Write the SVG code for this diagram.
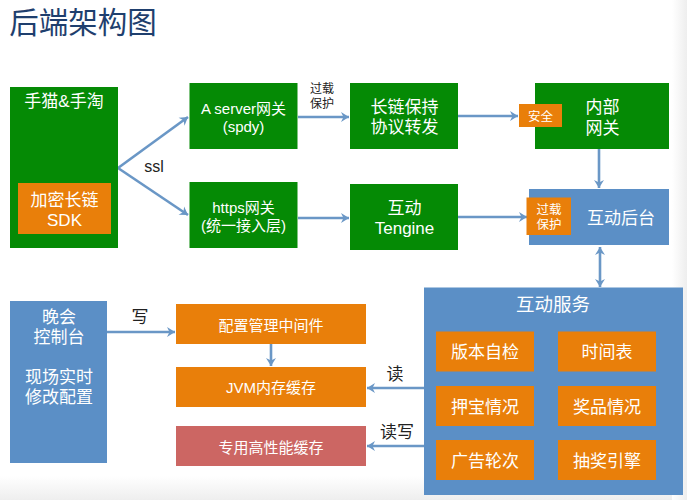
<svg xmlns="http://www.w3.org/2000/svg" width="687" height="500" viewBox="0 0 687 500">
<style>
text{font-family:"Liberation Sans","Noto Sans CJK SC",sans-serif;fill:#fff;text-anchor:middle}
.g{fill:#058a05}.o{fill:#e97f0a}.b{fill:#5b8fc6}.r{fill:#cc6663}
.dark{fill:#222}
.c{stroke:#6a97c6;stroke-width:2.6;fill:none;marker-end:url(#a)}
.s14{font-size:15px}.s16{font-size:17px}.s12{font-size:12.500px}
</style>
<defs>
<marker id="a" markerUnits="userSpaceOnUse" markerWidth="12" markerHeight="12" refX="9" refY="6" orient="auto-start-reverse"><path d="M1 1L9 6L1 11L3.500 6Z" fill="#6a97c6"/></marker>
<linearGradient id="rg"><stop offset="0" stop-color="#fff"/><stop offset="1" stop-color="#eeeeee"/></linearGradient>
<linearGradient id="bg" x1="0" y1="0" x2="0" y2="1"><stop offset="0" stop-color="#fff"/><stop offset="1" stop-color="#eeeeee"/></linearGradient>
</defs>
<rect width="687" height="500" fill="#fff"/>
<rect y="476" width="687" height="24" fill="url(#bg)"/>
<rect x="672" width="15" height="500" fill="url(#rg)"/>
<text id="title" x="83" y="33" style="font-size:29.500px;fill:#1f3f6e">后端架构图</text>
<g id="connectors">
<path class="c" d="M298 117H349"/>
<path class="c" d="M298 218H349"/>
<path class="c" d="M118 168L188 117"/>
<path class="c" d="M118 168L188 215"/>
<path class="c" d="M458 116H518"/>
<path class="c" d="M458 217H527"/>
<path class="c" d="M599 149V188"/>
<path class="c" d="M600 247V287" style="marker-start:url(#a)"/>
<path class="c" d="M107 332H175"/>
<path class="c" d="M271 344V366"/>
<path class="c" d="M424 388H367"/>
<path class="c" d="M424 446H367"/>
</g>
<g id="n-client"><rect class="g" x="10" y="87" width="108" height="161"/><text x="64" y="107" style="font-size:17px">手猫&amp;手淘</text></g>
<g id="n-sdk"><rect class="o" x="18" y="183" width="93" height="51"/><text class="s16" x="64.500" y="206">加密长链</text><text class="s16" x="64.500" y="226">SDK</text></g>
<g id="n-aserver"><rect class="g" x="189.500" y="83" width="108" height="66"/><text class="s14" x="243.500" y="114">A server网关</text><text class="s14" x="243.500" y="132">(spdy)</text></g>
<g id="n-https"><rect class="g" x="189.500" y="182" width="108" height="66"/><text class="s14" x="243.500" y="213">https网关</text><text class="s14" x="243.500" y="231">(统一接入层)</text></g>
<g id="n-long"><rect class="g" x="350" y="83" width="108" height="66"/><text class="s16" x="404.500" y="113">长链保持</text><text class="s16" x="404.500" y="133">协议转发</text></g>
<g id="n-tengine"><rect class="g" x="350" y="184" width="108" height="66"/><text class="s16" x="404.500" y="214">互动</text><text class="s16" x="404.500" y="234">Tengine</text></g>
<g id="n-inner"><rect class="g" x="535" y="83" width="134" height="66"/><text class="s16" x="602.500" y="113">内部</text><text class="s16" x="602.500" y="134">网关</text></g>
<g id="n-safe"><rect class="o" x="519" y="104" width="43" height="23"/><text class="s12" x="540.500" y="121">安全</text></g>
<g id="n-backend"><rect class="b" x="529" y="189" width="140" height="56"/><text class="s16" x="621" y="224">互动后台</text></g>
<g id="n-overload"><rect class="o" x="526.500" y="197.500" width="44.500" height="37.500"/><text class="s12" x="549" y="214">过载</text><text class="s12" x="549" y="229">保护</text></g>
<g id="n-service"><rect class="b" x="424" y="287.500" width="259" height="207.500"/><text x="553" y="311" style="font-size:18.500px">互动服务</text></g>
<g id="n-s1"><rect class="o" x="436" y="331.500" width="98" height="40"/><text class="s16" x="485" y="358">版本自检</text></g>
<g id="n-s2"><rect class="o" x="558" y="331.500" width="98" height="40"/><text class="s16" x="607" y="358">时间表</text></g>
<g id="n-s3"><rect class="o" x="436" y="386" width="98" height="40"/><text class="s16" x="485" y="413">押宝情况</text></g>
<g id="n-s4"><rect class="o" x="558" y="386" width="98" height="40"/><text class="s16" x="607" y="413">奖品情况</text></g>
<g id="n-s5"><rect class="o" x="436" y="440" width="98" height="40"/><text class="s16" x="485" y="467">广告轮次</text></g>
<g id="n-s6"><rect class="o" x="558" y="440" width="98" height="40"/><text class="s16" x="607" y="467">抽奖引擎</text></g>
<g id="n-console"><rect class="b" x="10" y="301" width="97" height="162"/><text class="s16" x="59" y="323">晚会</text><text class="s16" x="59" y="343">控制台</text><text class="s16" x="59" y="383">现场实时</text><text class="s16" x="59" y="403">修改配置</text></g>
<g id="n-config"><rect class="o" x="176" y="304" width="190" height="40"/><text class="s14" x="271" y="331">配置管理中间件</text></g>
<g id="n-jvm"><rect class="o" x="176" y="367" width="190" height="40"/><text class="s14" x="271" y="393">JVM内存缓存</text></g>
<g id="n-cache"><rect class="r" x="176" y="426" width="190" height="40"/><text class="s14" x="271" y="453">专用高性能缓存</text></g>
<g id="labels">
<text class="dark" x="322" y="93" style="font-size:12px">过载</text>
<text class="dark" x="322" y="108" style="font-size:12px">保护</text>
<text class="dark" x="154" y="172" style="font-size:16px">ssl</text>
<text class="dark" x="140" y="323" style="font-size:17px">写</text>
<text class="dark" x="395" y="380" style="font-size:17px">读</text>
<text class="dark" x="397" y="438" style="font-size:17px">读写</text>
</g>
</svg>
